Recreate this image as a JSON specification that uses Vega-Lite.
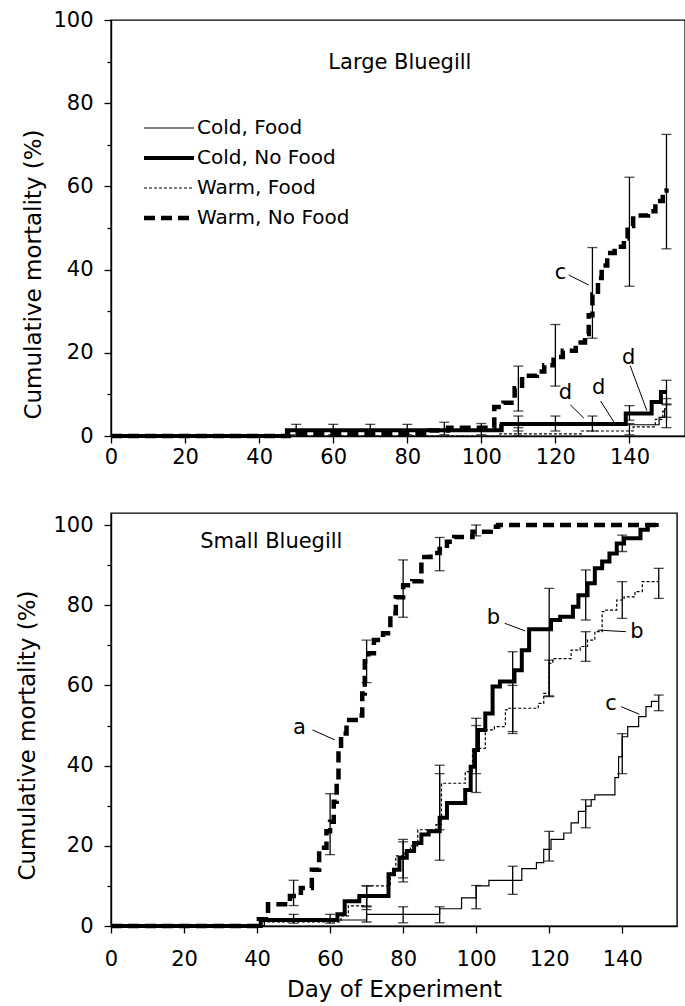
{
  "$schema": "https://vega.github.io/schema/vega-lite/v6.json",
  "padding": {"left": 16, "top": 8, "right": 0, "bottom": 0},
  "spacing": 44,
  "background": "white",
  "config": {
    "font": "DejaVu Sans",
    "view": {"stroke": "black", "strokeWidth": 1.4},
    "axis": {
      "grid": false,
      "domainColor": "black",
      "domainWidth": 1.4,
      "tickColor": "black",
      "tickWidth": 1.3,
      "labelColor": "black",
      "titleColor": "black",
      "labelFont": "DejaVu Sans",
      "titleFont": "DejaVu Sans",
      "labelFontSize": 21,
      "titleFontSize": 23,
      "titleFontWeight": "normal"
    },
    "legend": {"labelFont": "DejaVu Sans", "labelColor": "black"}
  },
  "datasets": {
    "lines": [
      {"panel": "L", "series": "Cold, Food", "day": 0, "mortality": 0},
      {"panel": "L", "series": "Cold, Food", "day": 48, "mortality": 1.4},
      {"panel": "L", "series": "Cold, Food", "day": 105, "mortality": 2.7},
      {"panel": "L", "series": "Cold, Food", "day": 148, "mortality": 4.5},
      {"panel": "L", "series": "Cold, Food", "day": 149.5, "mortality": 6.5},
      {"panel": "L", "series": "Cold, Food", "day": 150, "mortality": 6.5},

      {"panel": "L", "series": "Cold, No Food", "day": 0, "mortality": 0},
      {"panel": "L", "series": "Cold, No Food", "day": 47.5, "mortality": 1.4},
      {"panel": "L", "series": "Cold, No Food", "day": 105.5, "mortality": 2.9},
      {"panel": "L", "series": "Cold, No Food", "day": 139, "mortality": 5.4},
      {"panel": "L", "series": "Cold, No Food", "day": 146, "mortality": 8.2},
      {"panel": "L", "series": "Cold, No Food", "day": 148.5, "mortality": 10.6},
      {"panel": "L", "series": "Cold, No Food", "day": 150, "mortality": 10.6},

      {"panel": "L", "series": "Warm, Food", "day": 0, "mortality": 0},
      {"panel": "L", "series": "Warm, Food", "day": 105, "mortality": 0.5},
      {"panel": "L", "series": "Warm, Food", "day": 127, "mortality": 1.2},
      {"panel": "L", "series": "Warm, Food", "day": 141, "mortality": 2.2},
      {"panel": "L", "series": "Warm, Food", "day": 147, "mortality": 4},
      {"panel": "L", "series": "Warm, Food", "day": 149, "mortality": 6},
      {"panel": "L", "series": "Warm, Food", "day": 150, "mortality": 6},

      {"panel": "L", "series": "Warm, No Food", "day": 0, "mortality": 0},
      {"panel": "L", "series": "Warm, No Food", "day": 48, "mortality": 0.4},
      {"panel": "L", "series": "Warm, No Food", "day": 86, "mortality": 1.3},
      {"panel": "L", "series": "Warm, No Food", "day": 91, "mortality": 2},
      {"panel": "L", "series": "Warm, No Food", "day": 103.5, "mortality": 7},
      {"panel": "L", "series": "Warm, No Food", "day": 106, "mortality": 8},
      {"panel": "L", "series": "Warm, No Food", "day": 109, "mortality": 11.5},
      {"panel": "L", "series": "Warm, No Food", "day": 111, "mortality": 14.5},
      {"panel": "L", "series": "Warm, No Food", "day": 115, "mortality": 15.5},
      {"panel": "L", "series": "Warm, No Food", "day": 117, "mortality": 17},
      {"panel": "L", "series": "Warm, No Food", "day": 119.5, "mortality": 19},
      {"panel": "L", "series": "Warm, No Food", "day": 122, "mortality": 20.5},
      {"panel": "L", "series": "Warm, No Food", "day": 125.5, "mortality": 22.5},
      {"panel": "L", "series": "Warm, No Food", "day": 128, "mortality": 24.5},
      {"panel": "L", "series": "Warm, No Food", "day": 129, "mortality": 29},
      {"panel": "L", "series": "Warm, No Food", "day": 130, "mortality": 34},
      {"panel": "L", "series": "Warm, No Food", "day": 131.5, "mortality": 38},
      {"panel": "L", "series": "Warm, No Food", "day": 132.5, "mortality": 41},
      {"panel": "L", "series": "Warm, No Food", "day": 134, "mortality": 44},
      {"panel": "L", "series": "Warm, No Food", "day": 136, "mortality": 45.5},
      {"panel": "L", "series": "Warm, No Food", "day": 138.5, "mortality": 47.5},
      {"panel": "L", "series": "Warm, No Food", "day": 139.5, "mortality": 50.5},
      {"panel": "L", "series": "Warm, No Food", "day": 141, "mortality": 53},
      {"panel": "L", "series": "Warm, No Food", "day": 145, "mortality": 54},
      {"panel": "L", "series": "Warm, No Food", "day": 147, "mortality": 56.5},
      {"panel": "L", "series": "Warm, No Food", "day": 149, "mortality": 59},
      {"panel": "L", "series": "Warm, No Food", "day": 150, "mortality": 59.5},

      {"panel": "S", "series": "Cold, Food", "day": 0, "mortality": 0},
      {"panel": "S", "series": "Cold, Food", "day": 42, "mortality": 1.2},
      {"panel": "S", "series": "Cold, Food", "day": 62, "mortality": 1.5},
      {"panel": "S", "series": "Cold, Food", "day": 70, "mortality": 2.9},
      {"panel": "S", "series": "Cold, Food", "day": 90, "mortality": 4.3},
      {"panel": "S", "series": "Cold, Food", "day": 96, "mortality": 7},
      {"panel": "S", "series": "Cold, Food", "day": 100, "mortality": 10},
      {"panel": "S", "series": "Cold, Food", "day": 103.5, "mortality": 11.4},
      {"panel": "S", "series": "Cold, Food", "day": 112.5, "mortality": 14.3},
      {"panel": "S", "series": "Cold, Food", "day": 116.5, "mortality": 15.8},
      {"panel": "S", "series": "Cold, Food", "day": 118.5, "mortality": 19.1},
      {"panel": "S", "series": "Cold, Food", "day": 120.5, "mortality": 21.6},
      {"panel": "S", "series": "Cold, Food", "day": 124, "mortality": 23.2},
      {"panel": "S", "series": "Cold, Food", "day": 126, "mortality": 25.7},
      {"panel": "S", "series": "Cold, Food", "day": 128, "mortality": 28.6},
      {"panel": "S", "series": "Cold, Food", "day": 130, "mortality": 29.9},
      {"panel": "S", "series": "Cold, Food", "day": 131.5, "mortality": 31.5},
      {"panel": "S", "series": "Cold, Food", "day": 132.5, "mortality": 32.7},
      {"panel": "S", "series": "Cold, Food", "day": 138, "mortality": 37},
      {"panel": "S", "series": "Cold, Food", "day": 139, "mortality": 42.2},
      {"panel": "S", "series": "Cold, Food", "day": 140, "mortality": 47.2},
      {"panel": "S", "series": "Cold, Food", "day": 141.5, "mortality": 49.7},
      {"panel": "S", "series": "Cold, Food", "day": 144.5, "mortality": 52.2},
      {"panel": "S", "series": "Cold, Food", "day": 146.5, "mortality": 54.7},
      {"panel": "S", "series": "Cold, Food", "day": 148, "mortality": 56},
      {"panel": "S", "series": "Cold, Food", "day": 150, "mortality": 56},

      {"panel": "S", "series": "Cold, No Food", "day": 0, "mortality": 0},
      {"panel": "S", "series": "Cold, No Food", "day": 41, "mortality": 1.5},
      {"panel": "S", "series": "Cold, No Food", "day": 62, "mortality": 2.9},
      {"panel": "S", "series": "Cold, No Food", "day": 64, "mortality": 6.2},
      {"panel": "S", "series": "Cold, No Food", "day": 68, "mortality": 7.5},
      {"panel": "S", "series": "Cold, No Food", "day": 76, "mortality": 12.9},
      {"panel": "S", "series": "Cold, No Food", "day": 77.5, "mortality": 14},
      {"panel": "S", "series": "Cold, No Food", "day": 79, "mortality": 17},
      {"panel": "S", "series": "Cold, No Food", "day": 81, "mortality": 18.7},
      {"panel": "S", "series": "Cold, No Food", "day": 83, "mortality": 20.7},
      {"panel": "S", "series": "Cold, No Food", "day": 85, "mortality": 22.8},
      {"panel": "S", "series": "Cold, No Food", "day": 87, "mortality": 23.6},
      {"panel": "S", "series": "Cold, No Food", "day": 90, "mortality": 27},
      {"panel": "S", "series": "Cold, No Food", "day": 92, "mortality": 30.7},
      {"panel": "S", "series": "Cold, No Food", "day": 97, "mortality": 33.9},
      {"panel": "S", "series": "Cold, No Food", "day": 98.5, "mortality": 39.7},
      {"panel": "S", "series": "Cold, No Food", "day": 99.5, "mortality": 43.9},
      {"panel": "S", "series": "Cold, No Food", "day": 100.5, "mortality": 48.9},
      {"panel": "S", "series": "Cold, No Food", "day": 102.5, "mortality": 53},
      {"panel": "S", "series": "Cold, No Food", "day": 104.5, "mortality": 59.7},
      {"panel": "S", "series": "Cold, No Food", "day": 106.5, "mortality": 61},
      {"panel": "S", "series": "Cold, No Food", "day": 110.5, "mortality": 63.8},
      {"panel": "S", "series": "Cold, No Food", "day": 112.5, "mortality": 68.8},
      {"panel": "S", "series": "Cold, No Food", "day": 114.5, "mortality": 74},
      {"panel": "S", "series": "Cold, No Food", "day": 120.5, "mortality": 76.3},
      {"panel": "S", "series": "Cold, No Food", "day": 123, "mortality": 77.1},
      {"panel": "S", "series": "Cold, No Food", "day": 126.5, "mortality": 79.6},
      {"panel": "S", "series": "Cold, No Food", "day": 128, "mortality": 82.5},
      {"panel": "S", "series": "Cold, No Food", "day": 130.5, "mortality": 85.5},
      {"panel": "S", "series": "Cold, No Food", "day": 132.5, "mortality": 89.2},
      {"panel": "S", "series": "Cold, No Food", "day": 134.5, "mortality": 90.9},
      {"panel": "S", "series": "Cold, No Food", "day": 136.5, "mortality": 92.9},
      {"panel": "S", "series": "Cold, No Food", "day": 138.5, "mortality": 95.4},
      {"panel": "S", "series": "Cold, No Food", "day": 140.5, "mortality": 96.7},
      {"panel": "S", "series": "Cold, No Food", "day": 145, "mortality": 98.8},
      {"panel": "S", "series": "Cold, No Food", "day": 147, "mortality": 100},
      {"panel": "S", "series": "Cold, No Food", "day": 150, "mortality": 100},

      {"panel": "S", "series": "Warm, Food", "day": 0, "mortality": 0},
      {"panel": "S", "series": "Warm, Food", "day": 42, "mortality": 1},
      {"panel": "S", "series": "Warm, Food", "day": 63, "mortality": 2.5},
      {"panel": "S", "series": "Warm, Food", "day": 65, "mortality": 5},
      {"panel": "S", "series": "Warm, Food", "day": 70, "mortality": 10},
      {"panel": "S", "series": "Warm, Food", "day": 76.5, "mortality": 13.5},
      {"panel": "S", "series": "Warm, Food", "day": 78, "mortality": 17.5},
      {"panel": "S", "series": "Warm, Food", "day": 80.5, "mortality": 18.7},
      {"panel": "S", "series": "Warm, Food", "day": 82, "mortality": 20},
      {"panel": "S", "series": "Warm, Food", "day": 84, "mortality": 24},
      {"panel": "S", "series": "Warm, Food", "day": 89, "mortality": 25.3},
      {"panel": "S", "series": "Warm, Food", "day": 90.5, "mortality": 35.6},
      {"panel": "S", "series": "Warm, Food", "day": 97, "mortality": 38.5},
      {"panel": "S", "series": "Warm, Food", "day": 99, "mortality": 43.9},
      {"panel": "S", "series": "Warm, Food", "day": 100.5, "mortality": 44.3},
      {"panel": "S", "series": "Warm, Food", "day": 102.5, "mortality": 48.9},
      {"panel": "S", "series": "Warm, Food", "day": 105, "mortality": 49.7},
      {"panel": "S", "series": "Warm, Food", "day": 108, "mortality": 53.9},
      {"panel": "S", "series": "Warm, Food", "day": 109, "mortality": 54.3},
      {"panel": "S", "series": "Warm, Food", "day": 117, "mortality": 55.5},
      {"panel": "S", "series": "Warm, Food", "day": 118.5, "mortality": 58},
      {"panel": "S", "series": "Warm, Food", "day": 120, "mortality": 65.5},
      {"panel": "S", "series": "Warm, Food", "day": 121, "mortality": 66.7},
      {"panel": "S", "series": "Warm, Food", "day": 126, "mortality": 68.8},
      {"panel": "S", "series": "Warm, Food", "day": 128.5, "mortality": 69.7},
      {"panel": "S", "series": "Warm, Food", "day": 130.5, "mortality": 71.3},
      {"panel": "S", "series": "Warm, Food", "day": 132.5, "mortality": 73.4},
      {"panel": "S", "series": "Warm, Food", "day": 134.5, "mortality": 78.4},
      {"panel": "S", "series": "Warm, Food", "day": 135.5, "mortality": 78.8},
      {"panel": "S", "series": "Warm, Food", "day": 138.5, "mortality": 81.3},
      {"panel": "S", "series": "Warm, Food", "day": 140.5, "mortality": 82.1},
      {"panel": "S", "series": "Warm, Food", "day": 143.5, "mortality": 83.4},
      {"panel": "S", "series": "Warm, Food", "day": 145.5, "mortality": 85.9},
      {"panel": "S", "series": "Warm, Food", "day": 150, "mortality": 85.9},

      {"panel": "S", "series": "Warm, No Food", "day": 0, "mortality": 0},
      {"panel": "S", "series": "Warm, No Food", "day": 40.5, "mortality": 1.7},
      {"panel": "S", "series": "Warm, No Food", "day": 43, "mortality": 5.4},
      {"panel": "S", "series": "Warm, No Food", "day": 49, "mortality": 7.5},
      {"panel": "S", "series": "Warm, No Food", "day": 52, "mortality": 9.5},
      {"panel": "S", "series": "Warm, No Food", "day": 55, "mortality": 14},
      {"panel": "S", "series": "Warm, No Food", "day": 57, "mortality": 19.5},
      {"panel": "S", "series": "Warm, No Food", "day": 59, "mortality": 23.6},
      {"panel": "S", "series": "Warm, No Food", "day": 60, "mortality": 26},
      {"panel": "S", "series": "Warm, No Food", "day": 61, "mortality": 31},
      {"panel": "S", "series": "Warm, No Food", "day": 61.8, "mortality": 36},
      {"panel": "S", "series": "Warm, No Food", "day": 62.3, "mortality": 43},
      {"panel": "S", "series": "Warm, No Food", "day": 63, "mortality": 48},
      {"panel": "S", "series": "Warm, No Food", "day": 64.5, "mortality": 51.4},
      {"panel": "S", "series": "Warm, No Food", "day": 68, "mortality": 52.5},
      {"panel": "S", "series": "Warm, No Food", "day": 68.8, "mortality": 58},
      {"panel": "S", "series": "Warm, No Food", "day": 69.5, "mortality": 66},
      {"panel": "S", "series": "Warm, No Food", "day": 70.5, "mortality": 68},
      {"panel": "S", "series": "Warm, No Food", "day": 72, "mortality": 71.3},
      {"panel": "S", "series": "Warm, No Food", "day": 74.5, "mortality": 73},
      {"panel": "S", "series": "Warm, No Food", "day": 76.5, "mortality": 78},
      {"panel": "S", "series": "Warm, No Food", "day": 78, "mortality": 82},
      {"panel": "S", "series": "Warm, No Food", "day": 80, "mortality": 85},
      {"panel": "S", "series": "Warm, No Food", "day": 82.5, "mortality": 86},
      {"panel": "S", "series": "Warm, No Food", "day": 85, "mortality": 92},
      {"panel": "S", "series": "Warm, No Food", "day": 87.5, "mortality": 93},
      {"panel": "S", "series": "Warm, No Food", "day": 90, "mortality": 94},
      {"panel": "S", "series": "Warm, No Food", "day": 92, "mortality": 95.8},
      {"panel": "S", "series": "Warm, No Food", "day": 94, "mortality": 97},
      {"panel": "S", "series": "Warm, No Food", "day": 99, "mortality": 98.3},
      {"panel": "S", "series": "Warm, No Food", "day": 104, "mortality": 99.6},
      {"panel": "S", "series": "Warm, No Food", "day": 106, "mortality": 100},
      {"panel": "S", "series": "Warm, No Food", "day": 150, "mortality": 100}
    ],
    "bars": [
      {"panel": "L", "series": "Cold, No Food", "day": 50, "low": 0.3, "high": 2.8},
      {"panel": "L", "series": "Cold, No Food", "day": 60, "low": 0.3, "high": 2.8},
      {"panel": "L", "series": "Cold, No Food", "day": 70, "low": 0.3, "high": 2.8},
      {"panel": "L", "series": "Cold, No Food", "day": 80, "low": 0.3, "high": 2.8},
      {"panel": "L", "series": "Cold, No Food", "day": 90, "low": 0.3, "high": 3.3},
      {"panel": "L", "series": "Cold, No Food", "day": 100, "low": 0.3, "high": 3},
      {"panel": "L", "series": "Cold, No Food", "day": 110, "low": 1.2, "high": 4.8},
      {"panel": "L", "series": "Cold, No Food", "day": 120, "low": 1.2, "high": 4.8},
      {"panel": "L", "series": "Cold, No Food", "day": 130, "low": 1.2, "high": 4.8},
      {"panel": "L", "series": "Cold, No Food", "day": 140, "low": 3.8, "high": 7.3},
      {"panel": "L", "series": "Cold, No Food", "day": 150, "low": 7.5, "high": 13.4},
      {"panel": "L", "series": "Cold, Food", "day": 140, "low": 0.3, "high": 3},
      {"panel": "L", "series": "Cold, Food", "day": 150, "low": 2, "high": 9},
      {"panel": "L", "series": "Warm, Food", "day": 110, "low": 0, "high": 2},
      {"panel": "L", "series": "Warm, Food", "day": 150, "low": 4.5, "high": 7.7},
      {"panel": "L", "series": "Warm, No Food", "day": 110, "low": 6, "high": 16.8},
      {"panel": "L", "series": "Warm, No Food", "day": 120, "low": 12, "high": 26.8},
      {"panel": "L", "series": "Warm, No Food", "day": 130, "low": 23.5, "high": 45.3},
      {"panel": "L", "series": "Warm, No Food", "day": 140, "low": 36, "high": 62.2},
      {"panel": "L", "series": "Warm, No Food", "day": 150, "low": 45, "high": 72.5},

      {"panel": "S", "series": "Warm, No Food", "day": 50, "low": 5.1, "high": 11.4},
      {"panel": "S", "series": "Warm, No Food", "day": 60, "low": 17.8, "high": 33},
      {"panel": "S", "series": "Warm, No Food", "day": 70, "low": 60.7, "high": 71.3},
      {"panel": "S", "series": "Warm, No Food", "day": 80, "low": 77, "high": 91.3},
      {"panel": "S", "series": "Warm, No Food", "day": 90, "low": 88.6, "high": 96.9},
      {"panel": "S", "series": "Warm, No Food", "day": 100, "low": 97.3, "high": 100},
      {"panel": "S", "series": "Cold, No Food", "day": 50, "low": 0.7, "high": 2.9},
      {"panel": "S", "series": "Cold, No Food", "day": 60, "low": 0.7, "high": 2.9},
      {"panel": "S", "series": "Cold, No Food", "day": 70, "low": 4.1, "high": 10},
      {"panel": "S", "series": "Cold, No Food", "day": 80, "low": 11, "high": 21.6},
      {"panel": "S", "series": "Cold, No Food", "day": 90, "low": 16.4, "high": 40.1},
      {"panel": "S", "series": "Cold, No Food", "day": 100, "low": 33.3, "high": 51.8},
      {"panel": "S", "series": "Cold, No Food", "day": 110, "low": 48.5, "high": 68.4},
      {"panel": "S", "series": "Cold, No Food", "day": 120, "low": 57.4, "high": 84.2},
      {"panel": "S", "series": "Cold, No Food", "day": 130, "low": 76.3, "high": 88.8},
      {"panel": "S", "series": "Cold, No Food", "day": 140, "low": 93.4, "high": 97.5},
      {"panel": "S", "series": "Warm, Food", "day": 70, "low": 5, "high": 10},
      {"panel": "S", "series": "Warm, Food", "day": 80, "low": 12, "high": 21},
      {"panel": "S", "series": "Warm, Food", "day": 90, "low": 24, "high": 38},
      {"panel": "S", "series": "Warm, Food", "day": 100, "low": 38, "high": 50},
      {"panel": "S", "series": "Warm, Food", "day": 110, "low": 48, "high": 60},
      {"panel": "S", "series": "Warm, Food", "day": 120, "low": 57.2, "high": 66.3},
      {"panel": "S", "series": "Warm, Food", "day": 130, "low": 66, "high": 73.4},
      {"panel": "S", "series": "Warm, Food", "day": 140, "low": 76.7, "high": 85.9},
      {"panel": "S", "series": "Warm, Food", "day": 150, "low": 81.7, "high": 89.2},
      {"panel": "S", "series": "Cold, Food", "day": 70, "low": 1, "high": 4.8},
      {"panel": "S", "series": "Cold, Food", "day": 80, "low": 0.8, "high": 4.8},
      {"panel": "S", "series": "Cold, Food", "day": 90, "low": 0.8, "high": 4.8},
      {"panel": "S", "series": "Cold, Food", "day": 100, "low": 4.3, "high": 10.1},
      {"panel": "S", "series": "Cold, Food", "day": 110, "low": 7.9, "high": 14.9},
      {"panel": "S", "series": "Cold, Food", "day": 120, "low": 16.2, "high": 23.6},
      {"panel": "S", "series": "Cold, Food", "day": 130, "low": 24.5, "high": 31.5},
      {"panel": "S", "series": "Cold, Food", "day": 140, "low": 38, "high": 48},
      {"panel": "S", "series": "Cold, Food", "day": 150, "low": 53.7, "high": 57.6}
    ],
    "notes": [
      {"panel": "L", "label": "Large Bluegill", "day": 78, "mortality": 89.6},
      {"panel": "L", "label": "c", "day": 121.4, "mortality": 39.3},
      {"panel": "L", "label": "d", "day": 122.7, "mortality": 10.4},
      {"panel": "L", "label": "d", "day": 131.7, "mortality": 11.6},
      {"panel": "L", "label": "d", "day": 139.8, "mortality": 18.8},
      {"panel": "S", "label": "Small Bluegill", "day": 43.9, "mortality": 95.8},
      {"panel": "S", "label": "a", "day": 51.6, "mortality": 49.3},
      {"panel": "S", "label": "b", "day": 104.7, "mortality": 76.7},
      {"panel": "S", "label": "b", "day": 144, "mortality": 73.2},
      {"panel": "S", "label": "c", "day": 136.9, "mortality": 55.4}
    ],
    "leaders": [
      {"panel": "L", "day": 123.6, "mortality": 38.7, "day2": 129, "mortality2": 36.3},
      {"panel": "L", "day": 124, "mortality": 7.5, "day2": 127.7, "mortality2": 4.3},
      {"panel": "L", "day": 132.2, "mortality": 8.4, "day2": 136.2, "mortality2": 2.8},
      {"panel": "L", "day": 140.2, "mortality": 16.9, "day2": 144.7, "mortality2": 6.1},
      {"panel": "S", "day": 55.2, "mortality": 48.9, "day2": 61.3, "mortality2": 46.4},
      {"panel": "S", "day": 107.8, "mortality": 75.5, "day2": 113.4, "mortality2": 73.6},
      {"panel": "S", "day": 141, "mortality": 73.4, "day2": 133.3, "mortality2": 73.8},
      {"panel": "S", "day": 139.7, "mortality": 54.7, "day2": 144.7, "mortality2": 52.8}
    ]
  },
  "resolve": {"legend": {"strokeDash": "independent", "strokeWidth": "independent"}},
  "vconcat": [
    {
      "width": 574,
      "height": 416,
      "layer": [
        {
          "data": {"name": "lines"},
          "transform": [{"filter": "datum.panel === 'L'"}],
          "mark": {"type": "line", "interpolate": "step-after", "color": "black", "strokeCap": "butt"},
          "encoding": {
            "x": {"field": "day", "type": "quantitative", "scale": {"domain": [0, 155], "nice": false},
              "axis": {"title": null, "values": [0, 10, 20, 30, 40, 50, 60, 70, 80, 90, 100, 110, 120, 130, 140, 150],
                "labelExpr": "datum.value % 20 === 0 ? datum.label : ''", "labelFlush": false, "labelOverlap": false,
                "labelPadding": 3, "tickSize": {"condition": {"test": "datum.value % 20 === 0", "value": 7}, "value": 4}}},
            "y": {"field": "mortality", "type": "quantitative", "scale": {"domain": [0, 100], "nice": false},
              "axis": {"title": "Cumulative mortality (%)", "values": [0, 10, 20, 30, 40, 50, 60, 70, 80, 90, 100],
                "labelExpr": "datum.value % 20 === 0 ? datum.label : ''", "labelOverlap": false,
                "labelPadding": 11, "titlePadding": 7, "titleY": 254,
                "tickSize": {"condition": {"test": "datum.value % 20 === 0", "value": 7}, "value": 4}}},
            "strokeDash": {"field": "series", "type": "nominal",
              "scale": {"domain": ["Cold, Food", "Cold, No Food", "Warm, Food", "Warm, No Food"], "range": [[1, 0], [1, 0], [3, 2], [11, 6]]},
              "legend": {"title": null, "orient": "none", "legendX": 48, "legendY": 98, "symbolType": "M-5,0H5", "symbolSize": 100,
                "labelOffset": 18, "rowPadding": 10, "labelFontSize": 20, "symbolStrokeColor": "black", "padding": 0}},
            "strokeWidth": {"field": "series", "type": "nominal",
              "scale": {"type": "ordinal", "domain": ["Cold, Food", "Cold, No Food", "Warm, Food", "Warm, No Food"], "range": [1.2, 4, 1.2, 4.5]},
              "legend": {"title": null, "orient": "none", "legendX": 48, "legendY": 98, "symbolType": "M-5,0H5", "symbolSize": 100,
                "labelOffset": 18, "rowPadding": 10, "labelFontSize": 20, "symbolStrokeColor": "black", "padding": 0}}
          }
        },
        {
          "data": {"name": "bars"},
          "transform": [{"filter": "datum.panel === 'L'"}],
          "mark": {"type": "rule", "color": "black", "strokeWidth": 1.3},
          "encoding": {"x": {"field": "day", "type": "quantitative"}, "y": {"field": "low", "type": "quantitative"}, "y2": {"field": "high"}}
        },
        {
          "data": {"name": "bars"},
          "transform": [{"filter": "datum.panel === 'L'"}],
          "mark": {"type": "tick", "orient": "horizontal", "color": "black", "size": 10, "thickness": 1.3},
          "encoding": {"x": {"field": "day", "type": "quantitative"}, "y": {"field": "low", "type": "quantitative"}}
        },
        {
          "data": {"name": "bars"},
          "transform": [{"filter": "datum.panel === 'L'"}],
          "mark": {"type": "tick", "orient": "horizontal", "color": "black", "size": 10, "thickness": 1.3},
          "encoding": {"x": {"field": "day", "type": "quantitative"}, "y": {"field": "high", "type": "quantitative"}}
        },
        {
          "data": {"name": "leaders"},
          "transform": [{"filter": "datum.panel === 'L'"}],
          "mark": {"type": "rule", "color": "black", "strokeWidth": 1},
          "encoding": {"x": {"field": "day", "type": "quantitative"}, "y": {"field": "mortality", "type": "quantitative"},
            "x2": {"field": "day2"}, "y2": {"field": "mortality2"}}
        },
        {
          "data": {"name": "notes"},
          "transform": [{"filter": "datum.panel === 'L'"}],
          "mark": {"type": "text", "font": "DejaVu Sans", "fontSize": 21, "color": "black", "align": "center", "baseline": "middle"},
          "encoding": {"x": {"field": "day", "type": "quantitative"}, "y": {"field": "mortality", "type": "quantitative"}, "text": {"field": "label"}}
        }
      ]
    },
    {
      "width": 566,
      "height": 413,
      "layer": [
        {
          "data": {"name": "lines"},
          "transform": [{"filter": "datum.panel === 'S'"}],
          "mark": {"type": "line", "interpolate": "step-after", "color": "black", "strokeCap": "butt"},
          "encoding": {
            "x": {"field": "day", "type": "quantitative", "scale": {"domain": [0, 155], "nice": false},
              "axis": {"title": "Day of Experiment", "values": [0, 10, 20, 30, 40, 50, 60, 70, 80, 90, 100, 110, 120, 130, 140, 150],
                "labelExpr": "datum.value % 20 === 0 ? datum.label : ''", "labelFlush": false, "labelOverlap": false,
                "labelPadding": 15, "titlePadding": 9, "tickSize": {"condition": {"test": "datum.value % 20 === 0", "value": 7}, "value": 4}}},
            "y": {"field": "mortality", "type": "quantitative", "scale": {"domain": [0, 103], "nice": false},
              "axis": {"title": "Cumulative mortality (%)", "values": [0, 10, 20, 30, 40, 50, 60, 70, 80, 90, 100],
                "labelExpr": "datum.value % 20 === 0 ? datum.label : ''", "labelOverlap": false,
                "labelPadding": 11, "titlePadding": 13, "titleY": 222,
                "tickSize": {"condition": {"test": "datum.value % 20 === 0", "value": 7}, "value": 4}}},
            "strokeDash": {"field": "series", "type": "nominal",
              "scale": {"domain": ["Cold, Food", "Cold, No Food", "Warm, Food", "Warm, No Food"], "range": [[1, 0], [1, 0], [3, 2], [11, 6]]},
              "legend": null},
            "strokeWidth": {"field": "series", "type": "nominal",
              "scale": {"type": "ordinal", "domain": ["Cold, Food", "Cold, No Food", "Warm, Food", "Warm, No Food"], "range": [1.2, 4, 1.2, 4.5]},
              "legend": null}
          }
        },
        {
          "data": {"name": "bars"},
          "transform": [{"filter": "datum.panel === 'S'"}],
          "mark": {"type": "rule", "color": "black", "strokeWidth": 1.3},
          "encoding": {"x": {"field": "day", "type": "quantitative"}, "y": {"field": "low", "type": "quantitative"}, "y2": {"field": "high"}}
        },
        {
          "data": {"name": "bars"},
          "transform": [{"filter": "datum.panel === 'S'"}],
          "mark": {"type": "tick", "orient": "horizontal", "color": "black", "size": 10, "thickness": 1.3},
          "encoding": {"x": {"field": "day", "type": "quantitative"}, "y": {"field": "low", "type": "quantitative"}}
        },
        {
          "data": {"name": "bars"},
          "transform": [{"filter": "datum.panel === 'S'"}],
          "mark": {"type": "tick", "orient": "horizontal", "color": "black", "size": 10, "thickness": 1.3},
          "encoding": {"x": {"field": "day", "type": "quantitative"}, "y": {"field": "high", "type": "quantitative"}}
        },
        {
          "data": {"name": "leaders"},
          "transform": [{"filter": "datum.panel === 'S'"}],
          "mark": {"type": "rule", "color": "black", "strokeWidth": 1},
          "encoding": {"x": {"field": "day", "type": "quantitative"}, "y": {"field": "mortality", "type": "quantitative"},
            "x2": {"field": "day2"}, "y2": {"field": "mortality2"}}
        },
        {
          "data": {"name": "notes"},
          "transform": [{"filter": "datum.panel === 'S'"}],
          "mark": {"type": "text", "font": "DejaVu Sans", "fontSize": 21, "color": "black", "align": "center", "baseline": "middle"},
          "encoding": {"x": {"field": "day", "type": "quantitative"}, "y": {"field": "mortality", "type": "quantitative"}, "text": {"field": "label"}}
        }
      ]
    }
  ]
}
